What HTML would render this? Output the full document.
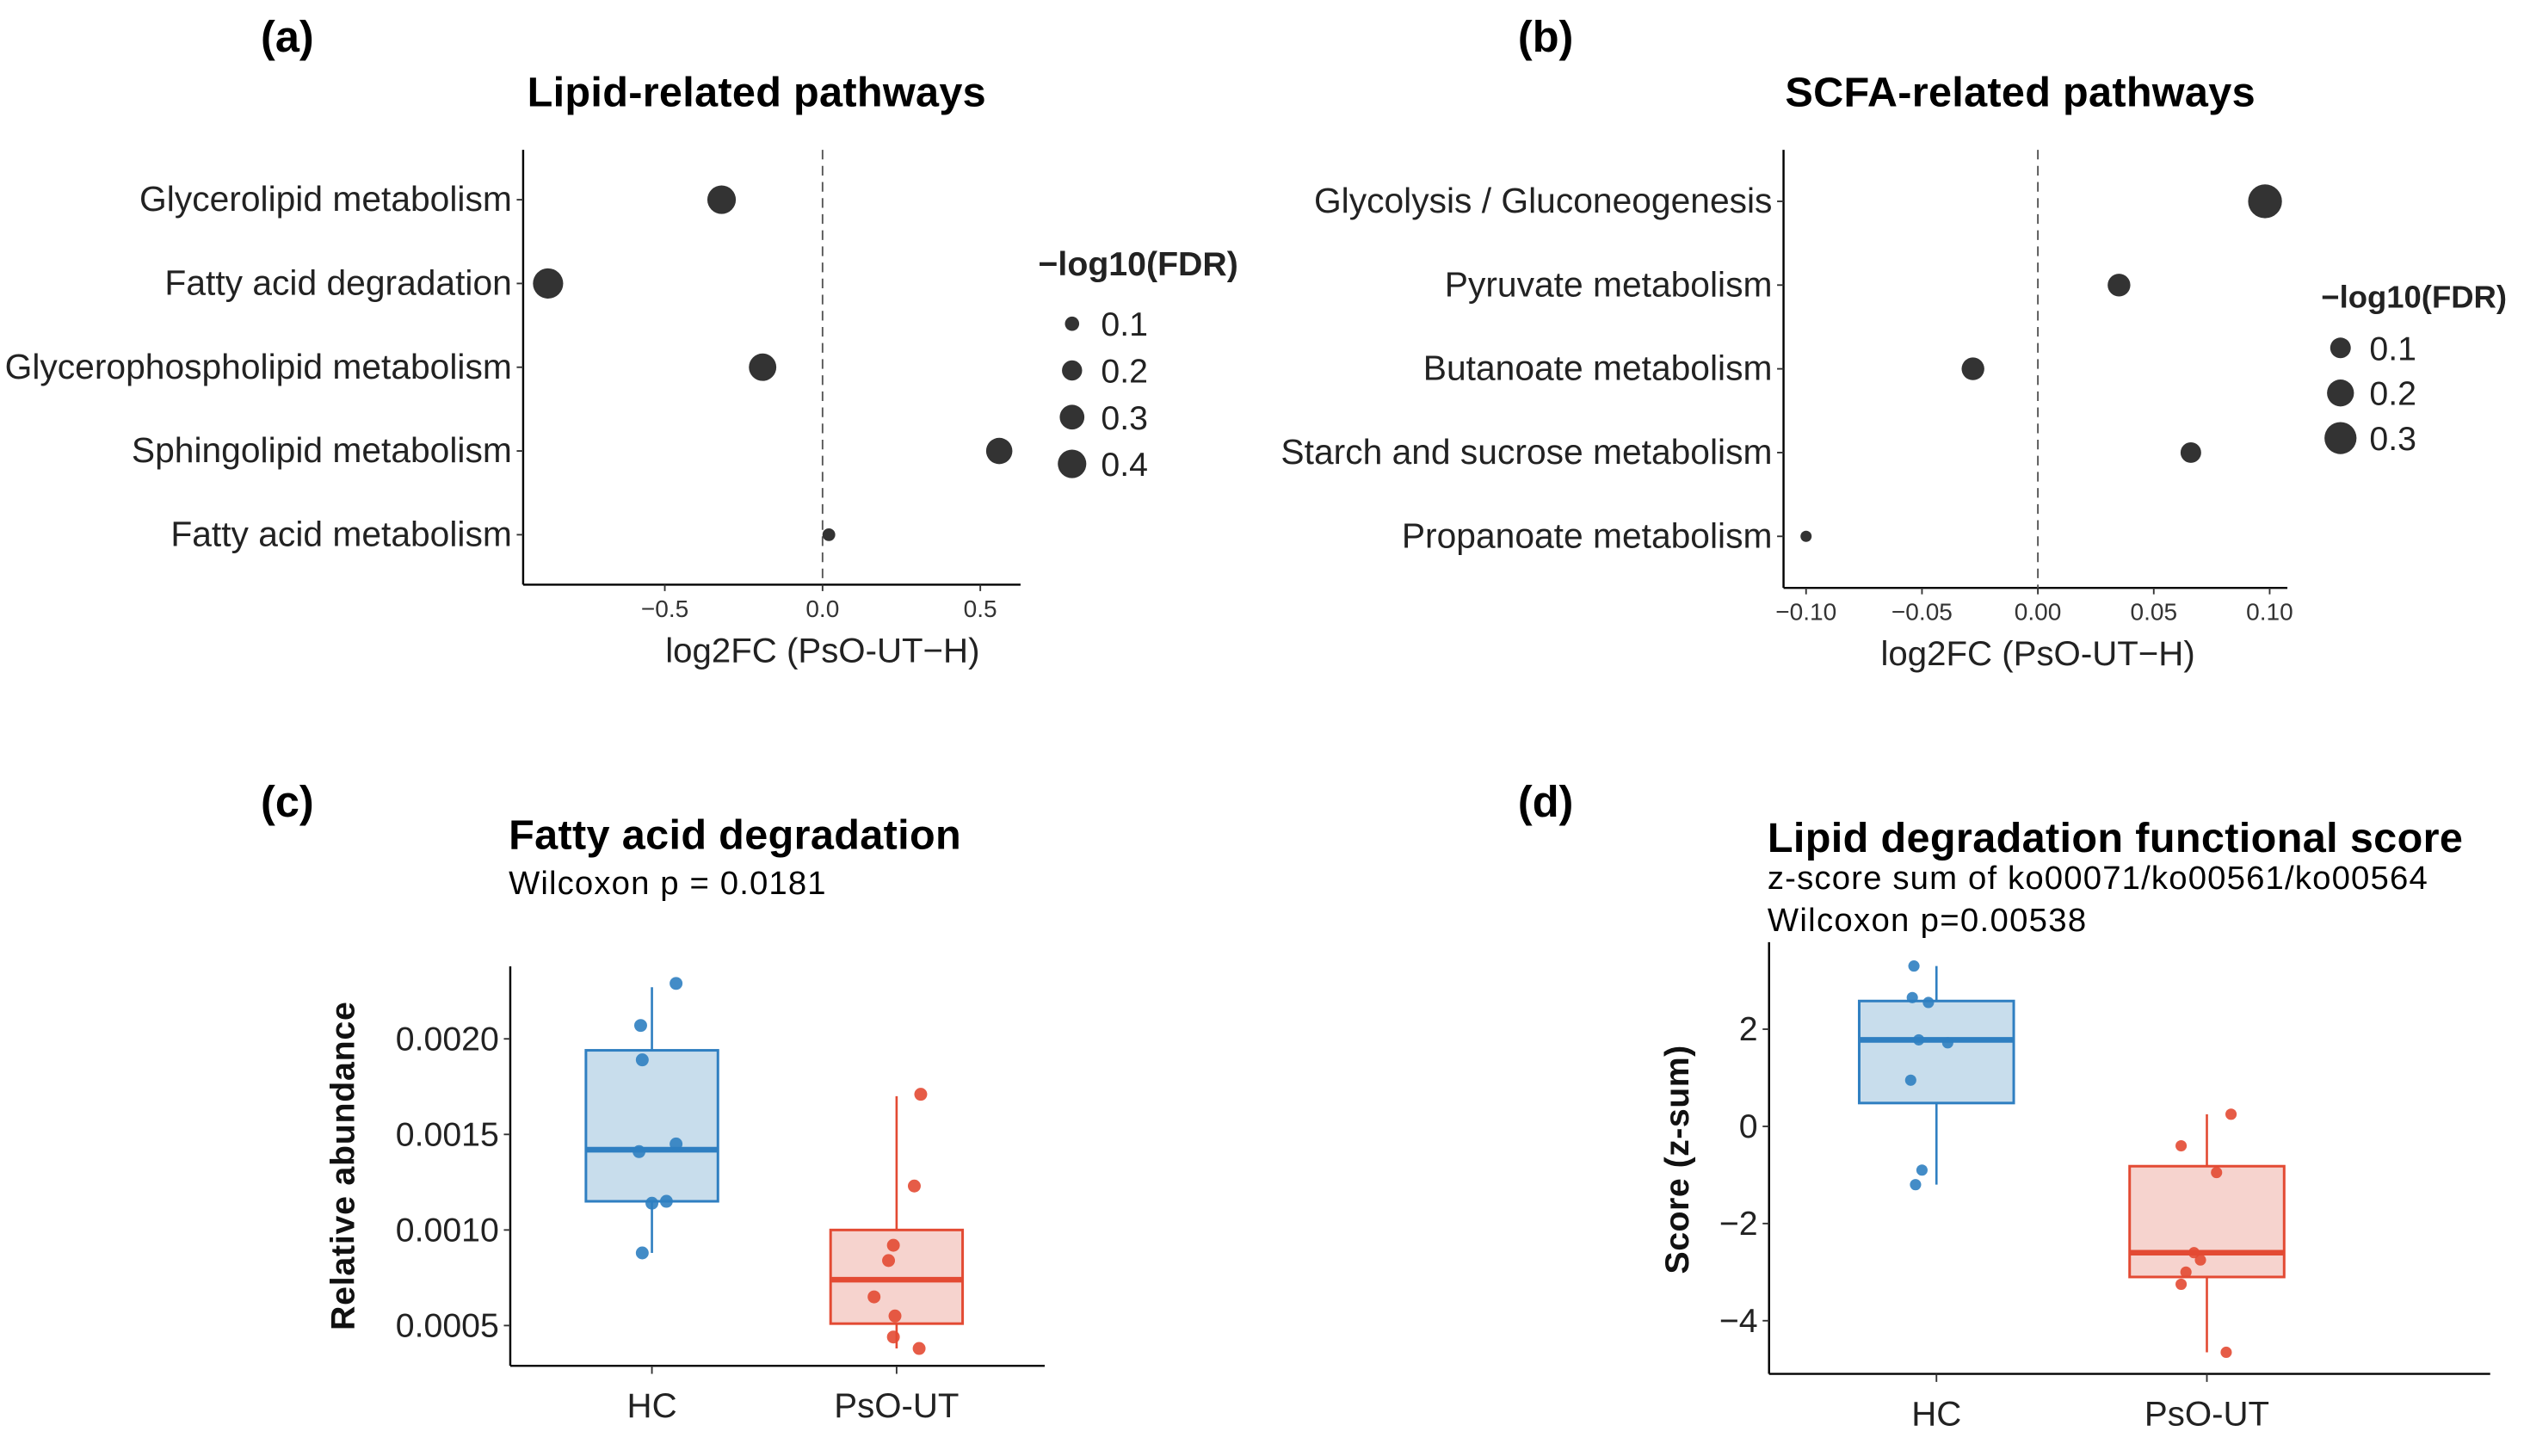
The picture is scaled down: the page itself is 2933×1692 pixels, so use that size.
<!DOCTYPE html>
<html><head><meta charset="utf-8"><style>
html,body{margin:0;padding:0;background:#fff;}
svg{display:block;font-family:"Liberation Sans",Arial,sans-serif;}
</style></head><body>
<svg id="fig" width="2933" height="1692" viewBox="0 0 1568 904" preserveAspectRatio="none" xmlns="http://www.w3.org/2000/svg">
<g font-weight="bold" font-size="27" fill="#000">
<text x="162" y="32">(a)</text>
<text x="943" y="32">(b)</text>
<text x="162" y="507">(c)</text>
<text x="943" y="507">(d)</text>
</g>
<text x="470" y="66" text-anchor="middle" font-weight="bold" font-size="26" textLength="285">Lipid-related pathways</text>
<text x="1255" y="66" text-anchor="middle" font-weight="bold" font-size="26" textLength="292">SCFA-related pathways</text>
<text x="316" y="527" font-weight="bold" font-size="26" textLength="281">Fatty acid degradation</text>
<text x="316" y="555" font-size="20.5" textLength="197">Wilcoxon p = 0.0181</text>
<text x="1098" y="529" font-weight="bold" font-size="26" textLength="432">Lipid degradation functional score</text>
<text x="1098" y="552" font-size="20.5" textLength="410">z-score sum of ko00071/ko00561/ko00564</text>
<text x="1098" y="578" font-size="20.5" textLength="198">Wilcoxon p=0.00538</text>
<g id="root"></g>
</svg>
<script>
// Panel a data
const aCats = ["Glycerolipid metabolism","Fatty acid degradation","Glycerophospholipid metabolism","Sphingolipid metabolism","Fatty acid metabolism"];
const aFC = [-0.32, -0.87, -0.19, 0.56, 0.02];
const aFDR = [0.40, 0.45, 0.37, 0.34, 0.08];
const aTicks = [-0.5, 0.0, 0.5];
const aTickLabels = ["\u22120.5","0.0","0.5"];
const aLegend = [0.1, 0.2, 0.3, 0.4];
// Panel b data
const bCats = ["Glycolysis / Gluconeogenesis","Pyruvate metabolism","Butanoate metabolism","Starch and sucrose metabolism","Propanoate metabolism"];
const bFC = [0.098, 0.035, -0.028, 0.066, -0.100];
const bFDR = [0.34, 0.13, 0.13, 0.10, 0.0];
const bTicks = [-0.10, -0.05, 0.00, 0.05, 0.10];
const bTickLabels = ["\u22120.10","\u22120.05","0.00","0.05","0.10"];
const bLegend = [0.1, 0.2, 0.3];
// Panel c data
const cGroups = ["HC","PsO-UT"];
const cStats = [[0.00088,0.00115,0.00142,0.00194,0.00227],[0.00038,0.00051,0.00074,0.00100,0.00170]];
const cHC = [0.00229,0.00207,0.00189,0.00141,0.00145,0.00114,0.00115,0.00088];
const cPsO = [0.00171,0.00123,0.00092,0.00084,0.00065,0.00055,0.00044,0.00038];
const cJitHC = [15,-7,-6,-8,15,0,9,-6];
const cJitPsO = [15,11,-2,-5,-14,-1,-2,14];
const cTicks = [0.0005,0.0010,0.0015,0.0020];
const cTickLabels = ["0.0005","0.0010","0.0015","0.0020"];
// Panel d data
const dGroups = ["HC","PsO-UT"];
const dStats = [[-1.2,0.48,1.78,2.58,3.3],[-4.65,-3.1,-2.6,-0.82,0.25]];
const dHC = [3.3,2.65,2.55,1.78,1.72,0.95,-0.9,-1.2];
const dPsO = [0.25,-0.4,-0.95,-2.6,-2.75,-3.0,-3.25,-4.65];
const dJitHC = [-14,-15,-5,-11,7,-16,-9,-13];
const dJitPsO = [15,-16,6,-8,-4,-13,-16,12];
const dTicks = [-4,-2,0,2];
const dTickLabels = ["\u22124","\u22122","0","2"];

const NS="http://www.w3.org/2000/svg";
const root=document.getElementById('root');
function mk(tag,attrs,parent){const e=document.createElementNS(NS,tag);for(const k in attrs)e.setAttribute(k,attrs[k]);(parent||root).appendChild(e);return e;}
function txt(s,attrs,parent){const e=mk('text',attrs,parent);e.textContent=s;return e;}
function lin(a,b,c,d){return v=>c+(v-a)*(d-c)/(b-a);}

function dotPanel(p){
  const g=mk('g',{});
  
  
  const x=lin(p.x0v,p.x1v,p.x0p,p.x1p);
  const catY=i=>p.y0+i*p.dy;
  const l1=mk('line',{x1:p.ax,y1:p.top,x2:p.ax,y2:p.bot,stroke:'#000','stroke-width':1.3},g);
  
  const l2=mk('line',{x1:p.ax,y1:p.bot,x2:p.right,y2:p.bot,stroke:'#000','stroke-width':1.3},g);
  
  const zl=mk('line',{x1:x(0),y1:p.top,x2:x(0),y2:p.bot,stroke:'#555','stroke-width':1,'stroke-dasharray':'6,4'},g);
  
  p.ticks.forEach((t,i)=>{
    mk('line',{x1:x(t),y1:p.bot,x2:x(t),y2:p.bot+4,stroke:'#333'},g);
    const tl=txt(p.tickLabels[i],{x:x(t),y:p.bot+20,'text-anchor':'middle','font-size':15,fill:'#333'},g);
    
  });
  p.cats.forEach((c,i)=>{
    mk('line',{x1:p.ax-4,y1:catY(i),x2:p.ax,y2:catY(i),stroke:'#333'},g);
    const cl=txt(c,{x:p.ax-7,y:catY(i)+7,'text-anchor':'end','font-size':21.8,fill:'#222'},g);
    
    const pt=mk('circle',{cx:x(p.fc[i]),cy:catY(i),r:p.r(p.fdr[i]),fill:'#333'},g);
    
  });
  const xt=txt('log2FC (PsO-UT\u2212H)',{x:x(0),y:p.bot+48,'text-anchor':'middle','font-size':21.5,fill:'#222'},g);
  
  const lt=txt('\u2212log10(FDR)',{x:p.lx,y:p.ly,'font-size':p.ltSize,'font-weight':'bold',fill:'#222'},g);
  
  p.legend.forEach((v,i)=>{
    const cy=p.ly+p.l0+i*p.ldy;
    const lc=mk('circle',{cx:p.lcx,cy:cy,r:p.r(v),fill:'#333'},g);
    
    const ll=txt(String(v),{x:p.lcx+18,y:cy+7.5,'font-size':21,fill:'#222'},g);
    
  });
}
dotPanel({name:'panel-a-dot-plot',cats:aCats,fc:aFC,fdr:aFDR,ticks:aTicks,tickLabels:aTickLabels,legend:aLegend,
  x0v:-0.5,x1v:0.5,x0p:413,x1p:609,ax:325,top:93,bot:363,right:634,y0:124,dy:52,
  r:v=>14*Math.sqrt(v),lx:645,ly:171,ltSize:21,lcx:666,l0:30,ldy:29});
dotPanel({name:'panel-b-dot-plot',cats:bCats,fc:bFC,fdr:bFDR,ticks:bTicks,tickLabels:bTickLabels,legend:bLegend,
  x0v:-0.10,x1v:0.10,x0p:1122,x1p:1410,ax:1108,top:93,bot:365,right:1421,y0:125,dy:52,
  r:v=>Math.sqrt(12+290*Math.max(v,0)),lx:1442,ly:191,ltSize:19.5,lcx:1454,l0:25,ldy:28});

function boxPanel(p){
  const g=mk('g',{});
  
  
  const y=lin(p.v0,p.v1,p.p0,p.p1);
  const l1=mk('line',{x1:p.ax,y1:p.top,x2:p.ax,y2:p.bot,stroke:'#000','stroke-width':1.3},g);
  
  const l2=mk('line',{x1:p.ax,y1:p.bot,x2:p.right,y2:p.bot,stroke:'#000','stroke-width':1.3},g);
  
  p.ticks.forEach((t,i)=>{
    mk('line',{x1:p.ax-4,y1:y(t),x2:p.ax,y2:y(t),stroke:'#333'},g);
    const tl=txt(p.tickLabels[i],{x:p.ax-7,y:y(t)+7,'text-anchor':'end','font-size':21,fill:'#222'},g);
    
  });
  const yt=txt(p.ytitle,{transform:`translate(${p.ytx},${p.yty}) rotate(-90)`,'text-anchor':'middle','font-size':21,'font-weight':'bold',fill:'#111',textLength:p.ylen},g);
  
  const cols=[['#2f7fc1','#c8ddec'],['#e34a33','#f6d3ce']];
  p.groups.forEach((gname,i)=>{
    const cx=p.cx[i],s=p.stats[i],[c,f]=cols[i];
    mk('line',{x1:cx,y1:p.bot,x2:cx,y2:p.bot+5,stroke:'#333'},g);
    const gl=txt(gname,{x:cx,y:p.bot+32,'text-anchor':'middle','font-size':21.5,fill:'#222'},g);
    
    const w=mk('line',{x1:cx,y1:y(s[0]),x2:cx,y2:y(s[4]),stroke:c,'stroke-width':1.4},g);
    
    const b=mk('rect',{x:cx-p.bw/2,y:y(s[3]),width:p.bw,height:y(s[1])-y(s[3]),fill:f,stroke:c,'stroke-width':1.6},g);
    
    const m=mk('line',{x1:cx-p.bw/2,y1:y(s[2]),x2:cx+p.bw/2,y2:y(s[2]),stroke:c,'stroke-width':3.5},g);
    
    const pts=p.pts[i],jit=p.jit[i];
    pts.forEach((v,k)=>{
      const d=mk('circle',{cx:cx+jit[k],cy:y(v),r:p.pr,fill:c,opacity:0.9},g);
      
    });
  });
}
boxPanel({name:'panel-c-boxplot',groups:cGroups,stats:cStats,pts:[cHC,cPsO],jit:[cJitHC,cJitPsO],ticks:cTicks,tickLabels:cTickLabels,
  v0:0.0005,v1:0.0020,p0:823,p1:645,ax:317,top:600,bot:848,right:649,cx:[405,557],bw:82,pr:4,
  ytitle:'Relative abundance',ytx:220,yty:724,ylen:204});
boxPanel({name:'panel-d-boxplot',groups:dGroups,stats:dStats,pts:[dHC,dPsO],jit:[dJitHC,dJitPsO],ticks:dTicks,tickLabels:dTickLabels,
  v0:-4,v1:2,p0:820,p1:639,ax:1099,top:585,bot:853,right:1547,cx:[1203,1371],bw:96,pr:3.5,
  ytitle:'Score (z-sum)',ytx:1049,yty:720,ylen:142});
</script>
</body></html>
